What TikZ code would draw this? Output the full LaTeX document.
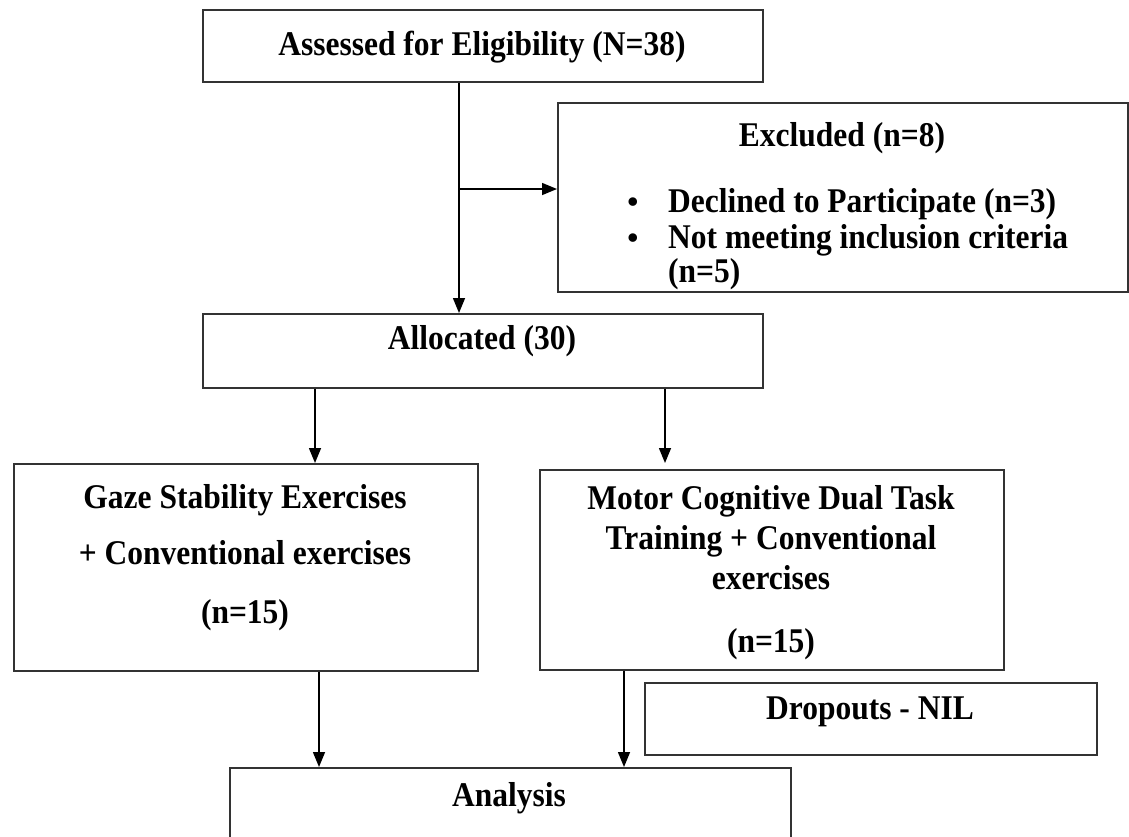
\documentclass[tikz,border=0pt]{standalone}
\usepackage{fontspec}
\usepackage{graphicx}
\setmainfont{Liberation Serif}
\usetikzlibrary{arrows.meta}
\newcommand{\tallt}[1]{\scalebox{1}[1.1]{#1}}
\begin{document}
\begin{tikzpicture}[x=1pt,y=-1pt,
  box/.style={draw=black!80, line width=1.6pt, rectangle, inner sep=0pt, anchor=north west},
  txt/.style={font=\fontsize{31.5}{36}\selectfont\bfseries, inner sep=0pt, anchor=base},
  arr/.style={draw=black, line width=1.5pt, -{Triangle[length=15pt,width=12pt]}}]
\fill[white] (0,0) rectangle (1129,836);
\clip (0,0) rectangle (1129,836);
% boxes
\node[box, minimum width=560pt, minimum height=72pt] (b1) at (202,9) {};
\node[box, minimum width=570pt, minimum height=189pt] (ex) at (557,102) {};
\node[box, minimum width=560pt, minimum height=74pt] (al) at (202,313) {};
\node[box, minimum width=464pt, minimum height=207pt] (gz) at (13,463) {};
\node[box, minimum width=464pt, minimum height=200pt] (mo) at (539,469) {};
\node[box, minimum width=452pt, minimum height=72pt] (dr) at (644,682) {};
\node[box, minimum width=561pt, minimum height=120pt] (an) at (229,767) {};
% texts
\node[txt] (t1) at (482,55) {\tallt{Assessed for Eligibility (N=38)}};
\node[txt] (ext) at (842,146) {\tallt{Excluded (n=8)}};
\node[txt] (bu1) at (633,212) {•};
\node[txt, anchor=base west] (ex1) at (668,212) {\tallt{Declined to Participate (n=3)}};
\node[txt] (bu2) at (633,248) {•};
\node[txt, anchor=base west] (ex2) at (668,248) {\tallt{Not meeting inclusion criteria}};
\node[txt, anchor=base west] (ex3) at (668,282) {\tallt{(n=5)}};
\node[txt] (alt) at (482,349) {\tallt{Allocated (30)}};
\node[txt] (gz1) at (245,508) {\tallt{Gaze Stability Exercises}};
\node[txt] (gz2) at (245,564) {\tallt{+ Conventional exercises}};
\node[txt] (gz3) at (245,623) {\tallt{(n=15)}};
\node[txt] (mo1) at (771,509) {\tallt{Motor Cognitive Dual Task}};
\node[txt] (mo2) at (771,549) {\tallt{Training + Conventional}};
\node[txt] (mo3) at (771,589) {\tallt{exercises}};
\node[txt] (mo4) at (771,652) {\tallt{(n=15)}};
\node[txt] (drt) at (870,719) {\tallt{Dropouts - NIL}};
\node[txt] (ant) at (509,806) {\tallt{Analysis}};
% connectors
\coordinate (vx) at (459,0);
\coordinate (br) at (459,189);
\coordinate (lx) at (315,0);
\coordinate (rx) at (665,0);
\coordinate (lx2) at (319,0);
\coordinate (rx2) at (624,0);
\path ([yshift=6pt]mo.north) coordinate (mtop);
\draw[arr] (b1.south -| vx) -- (al.north -| vx);
\draw[arr] (br) -- (br -| ex.west);
\draw[arr] (al.south -| lx) -- (gz.north -| lx);
\draw[arr] (al.south -| rx) -- (mtop -| rx);
\draw[arr] (gz.south -| lx2) -- (an.north -| lx2);
\draw[arr] (mo.south -| rx2) -- (an.north -| rx2);
\end{tikzpicture}
\end{document}
